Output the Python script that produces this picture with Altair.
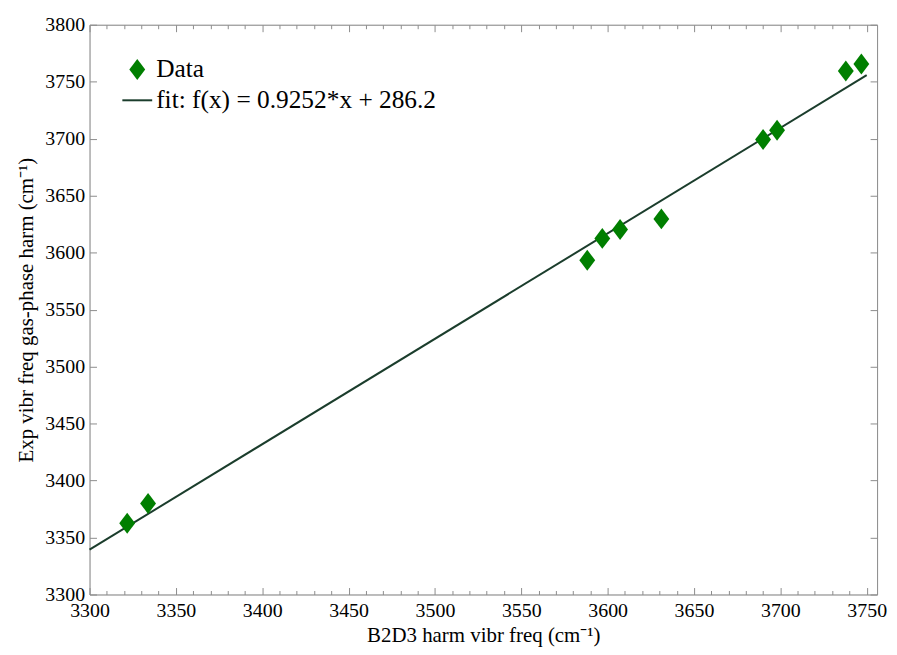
import altair as alt
import pandas as pd

# Data
x_vals = [3321.8, 3333.9, 3588.2, 3596.9, 3607.2, 3631.1, 3690.0, 3698.1, 3737.9, 3746.9]
y_vals = [3362.5, 3379.9, 3593.3, 3612.5, 3620.3, 3629.6, 3699.3, 3707.4, 3759.4, 3765.5]

fit_slope = 0.9252
fit_intercept = 286.2
fit_x = [3300, 3750]

x_domain = [3300, 3756]
y_domain = [3300, 3800]
x_major = list(range(3300, 3751, 50))
x_all = list(range(3300, 3751, 10))
y_major = list(range(3300, 3801, 50))

W, H = 792, 573
FONT = "Liberation Serif, Times New Roman, serif"
AX = "#8c8c8c"
GREEN = "#007f00"
LINE = "#1b3d2c"

pts = pd.DataFrame({"x": x_vals, "y": y_vals})
fit = pd.DataFrame({"x": fit_x, "y": [fit_slope * v + fit_intercept for v in fit_x]})

xs = alt.Scale(domain=x_domain, nice=False, zero=False)
ys = alt.Scale(domain=y_domain, nice=False, zero=False)

diamond = "M0,-1L0.76,0L0,1L-0.76,0Z"

points = alt.Chart(pts).mark_point(
    shape=diamond, filled=True, size=441, color=GREEN, opacity=1
).encode(
    x=alt.X("x:Q", scale=xs, axis=alt.Axis(
        values=x_major, ticks=False, domain=True, domainColor=AX, grid=False,
        labelFont=FONT, labelFontSize=20, labelColor="black", labelPadding=6,
        labelFlush=False, labelOverlap=False,
        title="B2D3 harm vibr freq (cm⁻¹)", titleFont=FONT, titleFontSize=21,
        titleFontWeight="normal", titleColor="black", titlePadding=4, format="d")),
    y=alt.Y("y:Q", scale=ys, axis=alt.Axis(
        values=y_major, ticks=False, domain=True, domainColor=AX, grid=False,
        labelFont=FONT, labelFontSize=20, labelColor="black", labelPadding=5,
        labelFlush=False, labelOverlap=False,
        title="Exp vibr freq gas-phase harm (cm⁻¹)", titleFont=FONT, titleFontSize=21,
        titleFontWeight="normal", titleColor="black", titlePadding=8, format="d")),
)

fit_line = alt.Chart(fit).mark_line(color=LINE, strokeWidth=2).encode(
    x=alt.X("x:Q", scale=xs, axis=alt.Axis(
        orient="top", offset=-H, values=x_all, labels=False, domain=False, grid=False,
        tickColor=AX, title=None,
        tickSize={"condition": {"test": "datum.value % 50 === 0", "value": 7}, "value": 4})),
    y=alt.Y("y:Q", scale=ys, axis=alt.Axis(
        orient="right", offset=-W, values=y_major, labels=False, domain=False, grid=False,
        tickColor=AX, tickSize=7, title=None)),
)

frame = alt.Chart(fit).mark_point(opacity=0).encode(
    x=alt.X("x:Q", scale=xs, axis=alt.Axis(
        orient="bottom", offset=-H, values=x_all, labels=False, domain=True, domainColor=AX,
        grid=False, tickColor=AX, title=None,
        tickSize={"condition": {"test": "datum.value % 50 === 0", "value": 7}, "value": 4})),
    y=alt.Y("y:Q", scale=ys, axis=alt.Axis(
        orient="left", offset=-W, values=y_major, labels=False, domain=True, domainColor=AX,
        grid=False, tickColor=AX, tickSize=7, title=None)),
)

one = pd.DataFrame({"a": [0]})
leg_sym = alt.Chart(one).mark_point(
    shape=diamond, filled=True, size=441, color=GREEN, opacity=1
).encode(x=alt.value(48), y=alt.value(45))
leg_line = alt.Chart(one).mark_rule(color=LINE, strokeWidth=2).encode(
    x=alt.value(33), x2=alt.value(63), y=alt.value(76))
leg_text = alt.Chart(pd.DataFrame({"t": ["Data", "fit: f(x) = 0.9252*x + 286.2"],
                                   "yy": [45, 76]})).mark_text(
    align="left", baseline="middle", font=FONT, fontSize=25.5, color="black"
).encode(x=alt.value(67), y=alt.Y("yy:Q", scale=None, axis=None), text="t:N")

chart = alt.layer(
    fit_line, frame, points, leg_line, leg_sym, leg_text
).resolve_scale(x="independent", y="independent").properties(
    width=W, height=H,
    autosize=alt.AutoSizeParams(type="none"),
    padding={"left": 82, "top": 15, "right": 12, "bottom": 55},
).configure_view(stroke=None).configure(background="white", font=FONT)

chart.save("out.html", embed_options={"renderer": "svg", "actions": False})
